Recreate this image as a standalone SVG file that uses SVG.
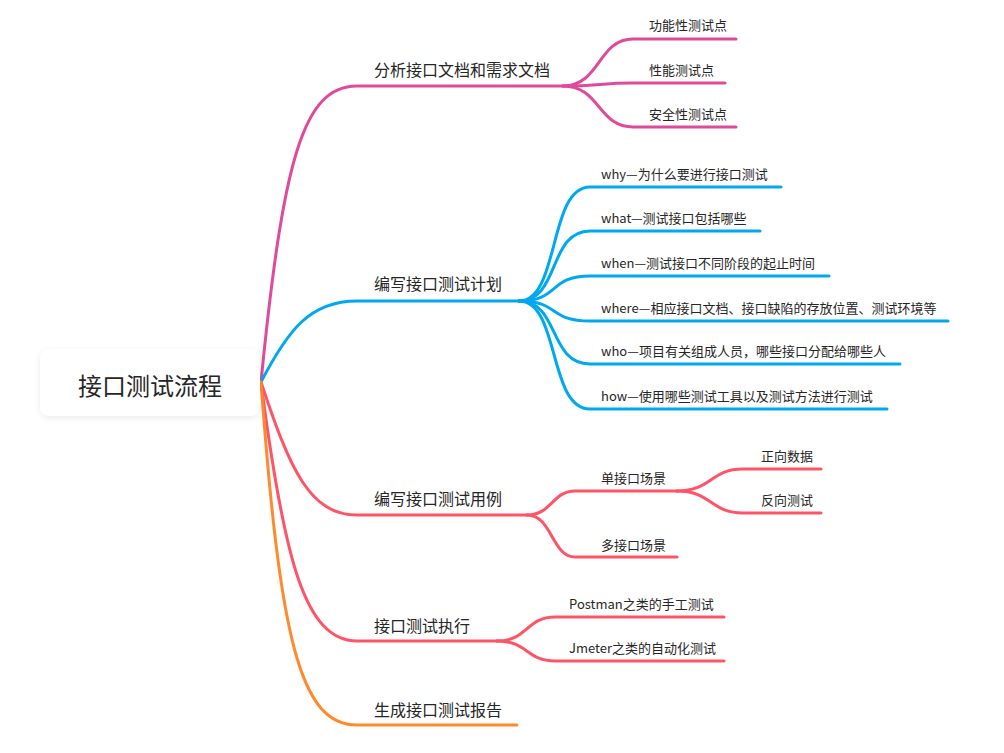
<svg xmlns="http://www.w3.org/2000/svg" width="1004" height="753" viewBox="0 0 1004 753">
<style>
.t{font-family:"Noto Sans CJK SC","Liberation Sans",sans-serif;fill:#262626}
.b{font-size:16px}
.s{font-size:13px}
.r{font-size:24px}
.ln{fill:none;stroke-width:3;stroke-linecap:round}
.pk{stroke:#e04a9b}
.bl{stroke:#00a8ef}
.rd{stroke:#ff5468}
.or{stroke:#ff8a2e}
</style>
<defs>
<filter id="sh" x="-10%" y="-20%" width="120%" height="150%">
<feDropShadow dx="0" dy="2" stdDeviation="3" flood-color="#000" flood-opacity="0.08"/>
</filter>
</defs>
<rect width="1004" height="753" fill="#fff"/>
<g id="connectors">
<path class="ln pk" d="M261,382 C283,160 303,86 357,86 L563,86"/>
<path class="ln pk" d="M563,86 C600,86 598,39 633,39 L736,39"/>
<path class="ln pk" d="M563,86 C600,86 600,83 633,83 L725,83"/>
<path class="ln pk" d="M563,86 C600,86 598,127 633,127 L736,127"/>
<path class="ln bl" d="M261,382 C288,330 310,301 357,301 L519,301"/>
<path class="ln bl" d="M519,301 C560,301 548,187 590,187 L781,187"/>
<path class="ln bl" d="M519,301 C560,301 548,231 590,231 L760,231"/>
<path class="ln bl" d="M519,301 C560,301 548,276 590,276 L829,276"/>
<path class="ln bl" d="M519,301 C560,301 548,321 590,321 L948,321"/>
<path class="ln bl" d="M519,301 C560,301 548,364 590,364 L900,364"/>
<path class="ln bl" d="M519,301 C560,301 548,409 590,409 L887,409"/>
<path class="ln rd" d="M261,382 C290,470 310,515 357,515 L527,515"/>
<path class="ln rd" d="M527,515 C552,515 552,491 575,491 L677,491"/>
<path class="ln rd" d="M527,515 C552,515 552,557 575,557 L677,557"/>
<path class="ln rd" d="M677,491 C712,491 710,469 743,469 L821,469"/>
<path class="ln rd" d="M677,491 C712,491 710,513 743,513 L821,513"/>
<path class="ln rd" d="M261,382 C284,560 305,641 357,641 L497,641"/>
<path class="ln rd" d="M497,641 C528,641 526,617 555,617 L724,617"/>
<path class="ln rd" d="M497,641 C528,641 526,661 555,661 L724,661"/>
<path class="ln or" d="M261,382 C280,640 300,725 357,725 L517,725"/>
</g>
<g id="root">
<rect x="40" y="349" width="220" height="67" rx="9" fill="#fff" filter="url(#sh)"/>
<text class="t r" x="150" y="395" text-anchor="middle">接口测试流程</text>
</g>
<g id="n1"><text class="t b" x="374" y="76">分析接口文档和需求文档</text></g>
<g id="n1a"><text class="t s" x="649" y="30">功能性测试点</text></g>
<g id="n1b"><text class="t s" x="649" y="75">性能测试点</text></g>
<g id="n1c"><text class="t s" x="649" y="119">安全性测试点</text></g>
<g id="n2"><text class="t b" x="374" y="290">编写接口测试计划</text></g>
<g id="n2a"><text class="t s" x="601" y="179">why—为什么要进行接口测试</text></g>
<g id="n2b"><text class="t s" x="601" y="223">what—测试接口包括哪些</text></g>
<g id="n2c"><text class="t s" x="601" y="268">when—测试接口不同阶段的起止时间</text></g>
<g id="n2d"><text class="t s" x="601" y="313">where—相应接口文档、接口缺陷的存放位置、测试环境等</text></g>
<g id="n2e"><text class="t s" x="601" y="356">who—项目有关组成人员，哪些接口分配给哪些人</text></g>
<g id="n2f"><text class="t s" x="601" y="401">how—使用哪些测试工具以及测试方法进行测试</text></g>
<g id="n3"><text class="t b" x="374" y="505">编写接口测试用例</text></g>
<g id="n3a"><text class="t s" x="601" y="483">单接口场景</text></g>
<g id="n3a1"><text class="t s" x="761" y="461">正向数据</text></g>
<g id="n3a2"><text class="t s" x="761" y="505">反向测试</text></g>
<g id="n3b"><text class="t s" x="601" y="550">多接口场景</text></g>
<g id="n4"><text class="t b" x="374" y="632">接口测试执行</text></g>
<g id="n4a"><text class="t s" x="569" y="609">Postman之类的手工测试</text></g>
<g id="n4b"><text class="t s" x="569" y="653">Jmeter之类的自动化测试</text></g>
<g id="n5"><text class="t b" x="374" y="716">生成接口测试报告</text></g>
</svg>
